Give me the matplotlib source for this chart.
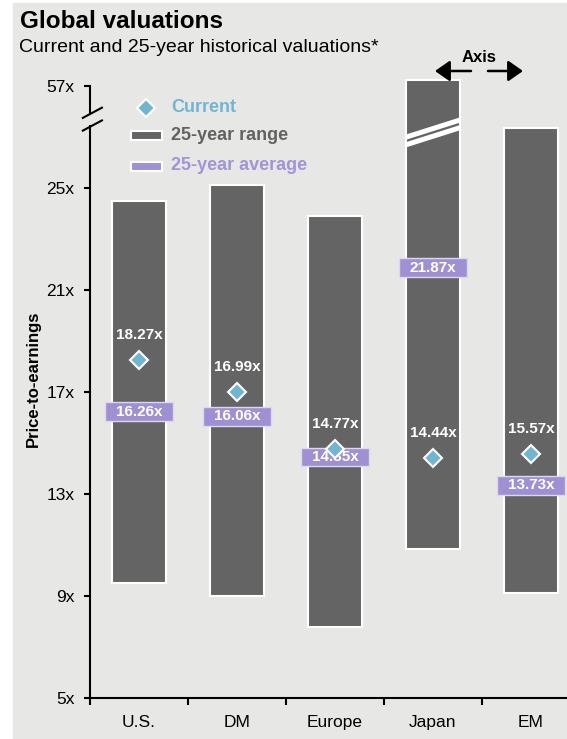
import numpy as np
import matplotlib
matplotlib.use("Agg")
import matplotlib.pyplot as plt
from matplotlib.patches import Rectangle, FancyArrowPatch

plt.rcParams["font.family"] = ["Liberation Sans", "DejaVu Sans"]

# Data
regions = ["U.S.", "DM", "Europe", "Japan", "EM"]
range_low = [9.5, 9.0, 7.8, 10.85, 9.1]
range_high = [24.5, 25.1, 23.9, 58.0, 27.35]
current_pos = [18.27, 16.99, 14.77, 14.4, 14.57]
current_labels = ["18.27x", "16.99x", "14.77x", "14.44x", "15.57x"]
average_pos = [16.22, 16.04, 14.45, 21.87, 13.35]
average_labels = ["16.26x", "16.06x", "14.35x", "21.87x", "13.73x"]
ytick_values = [5, 9, 13, 17, 21, 25, 57]
ytick_labels = ["5x", "9x", "13x", "17x", "21x", "25x", "57x"]

BG = "#e7e7e6"
BAR = "#646464"
PURPLE = "#9f90d3"
BLUE = "#72b5d0"
W, H = 567, 739


def to_axis(v):
    # values above the axis break get squeezed next to the 57x tick
    return v if v <= 28 else 29 + (v - 57) * 0.25


def fpx(x, y):
    return x / W, 1 - y / H


fig = plt.figure(figsize=(W / 100, H / 100), dpi=100, facecolor="white")
fig.patches.append(Rectangle(fpx(13, 739), (W - 13) / W, (739 - 3) / H,
                             transform=fig.transFigure, color=BG, zorder=-10))

ax = fig.add_axes([90 / W, 41 / H, (W - 90) / W, 25 * 25.5 / H])
ax.set_facecolor("none")
ax.set_xlim(-0.5, (W - 139) / 98)
ax.set_ylim(5, 30)

x = np.arange(len(regions))
lows = np.array(range_low)
highs = np.array([to_axis(v) for v in range_high])
ax.bar(x, highs - lows, bottom=lows, width=0.55, color=BAR,
       edgecolor="white", linewidth=1.5, zorder=2)

# axis break drawn across the Japan bar
j = regions.index("Japan")
for off in (0.15, -0.15):
    xs = np.array([j - 0.275, j + 0.275])
    ax.plot(xs, 27.18 + off + (xs - j) * 1.22, color="white", lw=3.6,
            solid_capstyle="butt", zorder=3)

# 25-year averages
for i, (v, lab) in enumerate(zip(average_pos, average_labels)):
    ax.add_patch(Rectangle((i - 0.345, v - 0.37), 0.69, 0.74, facecolor=PURPLE,
                           edgecolor="#ddd8ee", linewidth=1, zorder=4))
    ax.text(i, v, lab, ha="center", va="center", color="white",
            fontsize=11, fontweight="bold", zorder=5)

# current values
ax.plot(x, current_pos, linestyle="none", marker="D", markersize=9,
        color=BLUE, markeredgecolor="white", markeredgewidth=1.5, zorder=6)
for i, (v, lab) in enumerate(zip(current_pos, current_labels)):
    ax.text(i, v + 0.98, lab, ha="center", va="center", color="white",
            fontsize=11, fontweight="bold", zorder=6)

# axes
for s in ["top", "right", "left"]:
    ax.spines[s].set_visible(False)
ax.spines["bottom"].set_linewidth(1.5)
ytr = ax.get_yaxis_transform()
ax.plot([0, 0], [5, 27.45], color="black", lw=1.5, transform=ytr, clip_on=False)
ax.plot([0, 0], [27.95, 29], color="black", lw=1.5, transform=ytr, clip_on=False)
for yb in (27.45, 27.95):
    ax.plot([-0.015, 0.025], [yb - 0.2, yb + 0.2], color="black", lw=1.5,
            transform=ytr, clip_on=False)

ax.set_yticks([to_axis(v) for v in ytick_values])
ax.set_yticklabels(ytick_labels)
ax.set_xticks([-0.5] + list(x[:-1] + 0.5))
ax.set_xticklabels([])
ax.set_xticks(x, minor=True)
ax.set_xticklabels(regions, minor=True)
ax.tick_params(axis="x", which="major", length=5, width=1.5, direction="out")
ax.tick_params(axis="x", which="minor", length=0, pad=12, labelsize=12.5)
ax.tick_params(axis="y", length=4, width=1.5, pad=7, labelsize=12.5)

ax.set_ylabel("Price-to-earnings", fontsize=12, fontweight="bold", labelpad=4)

# titles
fig.text(*fpx(20, 22), "Global valuations", fontsize=17.5, fontweight="bold",
         va="center", ha="left")
fig.text(*fpx(19, 47), "Current and 25-year historical valuations*",
         fontsize=14, va="center", ha="left")

# "Axis" marker above Japan
fig.text(*fpx(479, 58), "Axis", fontsize=12, fontweight="bold", ha="center", va="center")
for start, end in [((471, 71), (435, 71)), ((488, 71), (523, 71))]:
    fig.add_artist(FancyArrowPatch(fpx(*start), fpx(*end), transform=fig.transFigure,
                                   arrowstyle="-|>,head_length=5,head_width=3.5",
                                   mutation_scale=1.8, color="black", lw=1.8,
                                   shrinkA=0, shrinkB=0))

# legend
fig.add_artist(plt.Line2D([146 / W], [1 - 108 / H], marker="D", markersize=9,
               color=BLUE, markeredgecolor="white", markeredgewidth=1.5,
               transform=fig.transFigure))
fig.patches.append(Rectangle(fpx(131, 140), 31 / W, 9 / H, transform=fig.transFigure,
                             facecolor=BAR, edgecolor="white", lw=1.5))
fig.patches.append(Rectangle(fpx(131, 171), 31 / W, 9 / H, transform=fig.transFigure,
                             facecolor=PURPLE, edgecolor="white", lw=1.5))
fig.text(*fpx(171, 108), "Current", color=BLUE, fontsize=13, fontweight="bold", va="center")
fig.text(*fpx(171, 135), "25-year range", color="#626262", fontsize=13,
         fontweight="bold", va="center")
fig.text(*fpx(171, 166), "25-year average", color="#a394d8", fontsize=13,
         fontweight="bold", va="center")

fig.savefig("out.png", dpi=100, facecolor="white")
